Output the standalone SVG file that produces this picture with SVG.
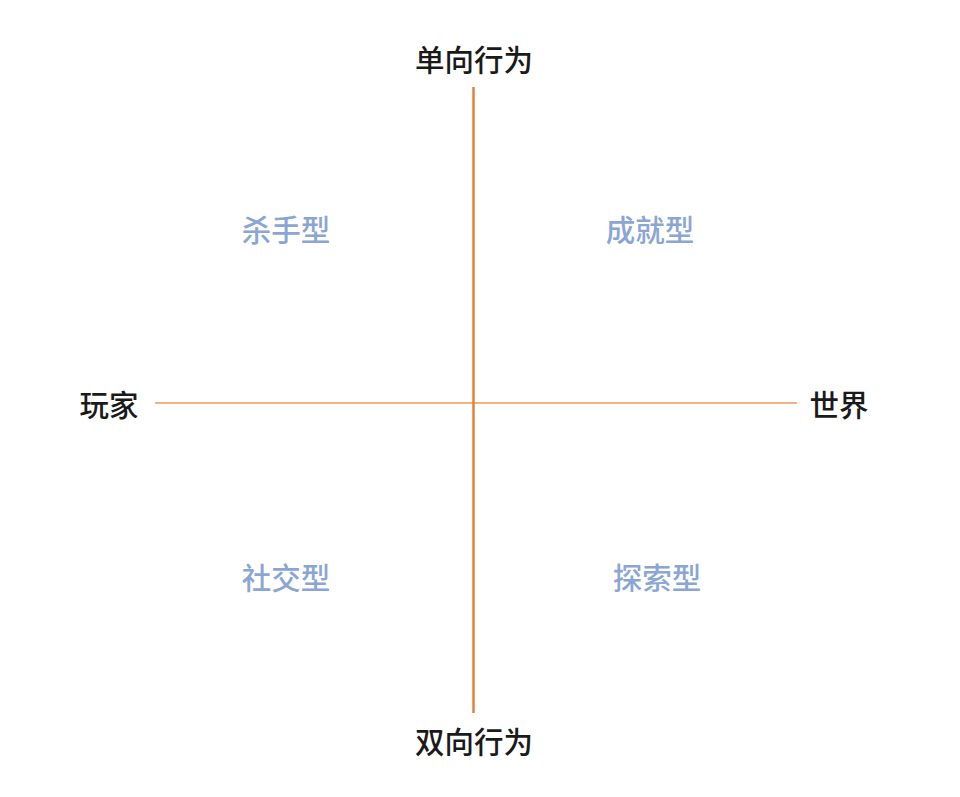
<svg xmlns="http://www.w3.org/2000/svg" width="960" height="797" viewBox="0 0 960 797">
<style>
.axis{font-family:"Noto Sans CJK SC","Noto Sans",sans-serif;font-size:29.5px;font-weight:500;fill:#1a1a1a;text-anchor:middle;dominant-baseline:central}
.quad{font-family:"Noto Sans CJK SC","Noto Sans",sans-serif;font-size:29.5px;font-weight:500;fill:#8aa6d4;text-anchor:middle;dominant-baseline:central}
</style>
<rect width="960" height="797" fill="#ffffff"/>
<g id="connectors">
<line x1="155" y1="403" x2="797" y2="403" stroke="#f0b47f" stroke-width="2"/>
<line x1="473.5" y1="87" x2="473.5" y2="713" stroke="#e47f3c" stroke-width="2.5"/>
</g>
<g id="top"><text class="axis" x="474" y="58">单向行为</text></g>
<g id="bottom"><text class="axis" x="474" y="740">双向行为</text></g>
<g id="left"><text class="axis" x="109" y="403">玩家</text></g>
<g id="right"><text class="axis" x="839" y="403">世界</text></g>
<g id="killer"><text class="quad" x="286" y="228">杀手型</text></g>
<g id="achiever"><text class="quad" x="650" y="228">成就型</text></g>
<g id="socializer"><text class="quad" x="286" y="576">社交型</text></g>
<g id="explorer"><text class="quad" x="657" y="576">探索型</text></g>
</svg>
